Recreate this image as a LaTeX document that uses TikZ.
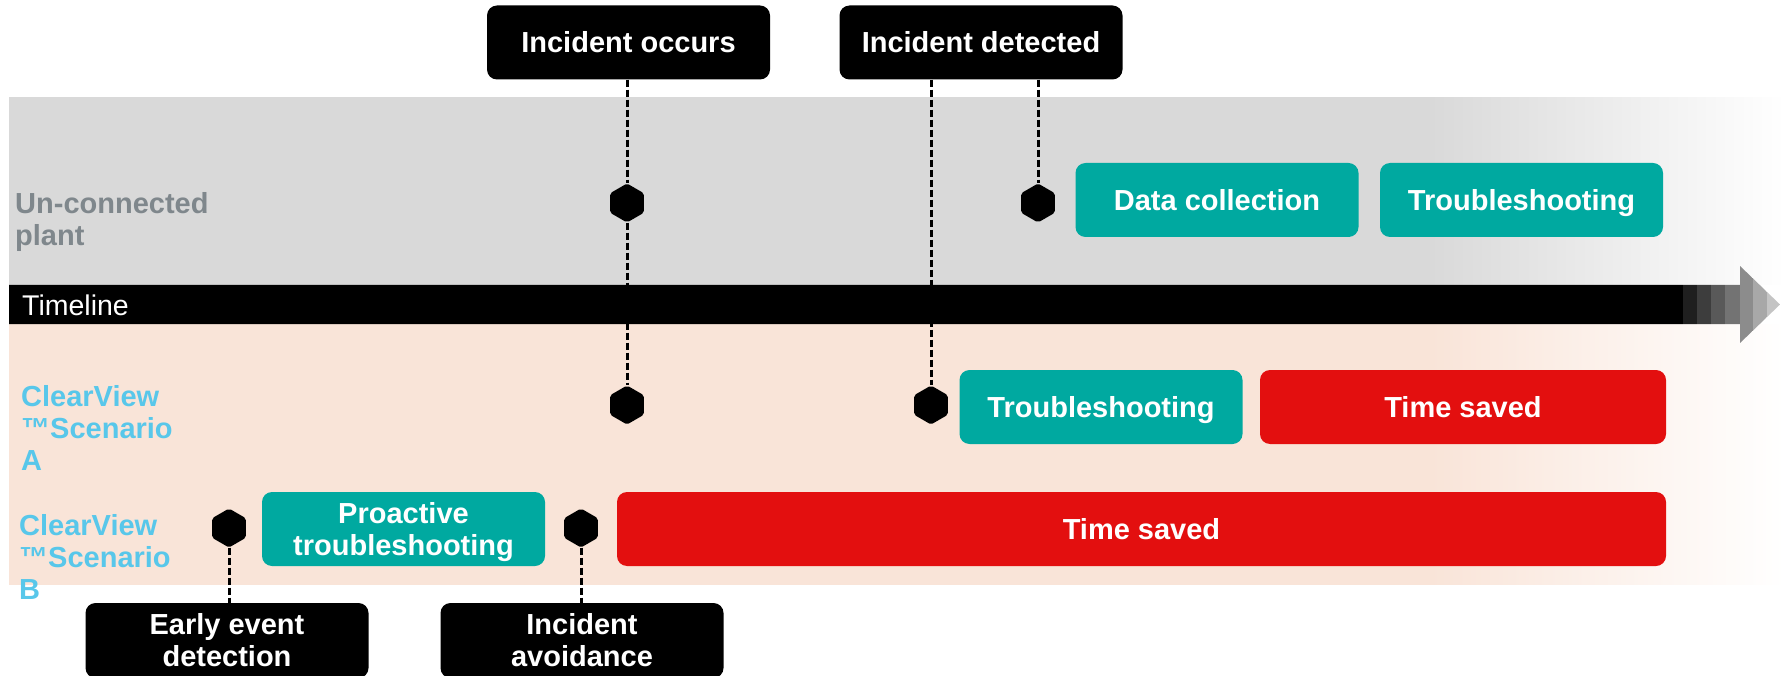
\documentclass[tikz,border=0pt]{standalone}
\usepackage{fontspec}
\setmainfont{Liberation Sans}
\usetikzlibrary{shapes.geometric}

\definecolor{bandgray}{HTML}{D9D9D9}
\definecolor{bandpeach}{HTML}{F9E4D8}
\definecolor{phaseteal}{HTML}{00A9A0}
\definecolor{savedred}{HTML}{E30F0F}
\definecolor{labelgray}{HTML}{7F878C}
\definecolor{labelcyan}{HTML}{58C7EA}

% bands fade out to the right
\pgfdeclarehorizontalshading{grayfade}{100bp}{color(0bp)=(bandgray); color(65bp)=(bandgray); color(75bp)=(white); color(100bp)=(white)}
\pgfdeclarehorizontalshading{peachfade}{100bp}{color(0bp)=(bandpeach); color(65bp)=(bandpeach); color(75bp)=(white); color(100bp)=(white)}

\begin{document}
\begin{tikzpicture}[
		x=1pt, y=-1pt,
		tagbox/.style	={ fill=black, text=white, rounded corners=10pt,
			font=\bfseries\fontsize{29}{32}\selectfont, align=center,
			minimum width=283pt, minimum height=74pt, inner sep=0pt,
		},
		phase/.style	={ tagbox, fill=phaseteal },
		saved/.style	={ tagbox, fill=savedred },
		nodesc/.style	={ text depth=0pt },
		hexmark/.style	={ regular polygon, regular polygon sides=6,
			regular polygon rotate=30, fill=black, minimum size=39pt,
			inner sep=0pt, rounded corners=2pt,
		},
		dashline/.style	={ line width=3pt, dash pattern=on 7pt off 3pt },
		rowlabel/.style	={ font=\bfseries\fontsize{29}{32}\selectfont,
			align=left, anchor=north west, inner sep=0pt,
		},
	]
	
	\useasboundingbox (0,0) rectangle (1785,676);
	
	% draw bands
	\shade [shading=grayfade] (9,98) rectangle (1785,285);
	\shade [shading=peachfade] (9,324) rectangle (1785,584);
	
	% draw timeline arrow
	\begin{scope}
		\clip (9,285) -- (1740,285) -- (1740,266) -- (1780,304.5)
			-- (1740,343) -- (1740,324) -- (9,324) -- cycle;
		\fill [black] (9,266) rectangle (1683,343);
		\foreach \xa/\xb/\k in {1683/1697/88, 1697/1711/76, 1711/1725/65,
				1725/1740/55, 1740/1753/45, 1753/1767/34, 1767/1781/23}
			\fill [black!\k] (\xa,266) rectangle (\xb,343);
	\end{scope}
	\node [anchor=base west, inner sep=0pt, text=white,
		font=\fontsize{28.5}{32}\selectfont] (timelabel) at (22,315) {Timeline};
	
	% row labels
	\node [rowlabel, text=labelgray] (plantlabel) at (15,192) {Un-connected\\plant};
	\node [rowlabel, text=labelcyan] (scenA) at (21,385) {ClearView\\™Scenario\\A};
	\node [rowlabel, text=labelcyan] (scenB) at (19,514) {ClearView\\™Scenario\\B};
	
	% draw event tags
	\node [tagbox] (occurs) at (628.5,42.5) {Incident occurs};
	\node [tagbox] (detected) at (981,42.5) {Incident detected};
	\node [tagbox, minimum height=75pt] (early) at (227,640.5) {Early event\\detection};
	\node [tagbox, minimum height=75pt] (avoid) at (582,640.5) {Incident\\avoidance};
	
	% draw phases
	\node [phase] (collect) at (1217,200) {Data collection};
	\node [phase, nodesc] (troubleU) at (1521.5,200) {Troubleshooting};
	\node [phase, nodesc] (troubleA) at (1101,407) {Troubleshooting};
	\node [saved, minimum width=406pt] (savedA) at (1463,407) {Time saved};
	\node [phase, nodesc] (proactive) at (403.5,529) {Proactive\\troubleshooting};
	\node [saved, minimum width=1049pt] (savedB) at (1141.5,529) {Time saved};
	
	% draw hexagons
	\def\hexlist{ 627/203/u1, 1038/203/u2, 627/405/a1, 931/405/a2, 229/528/b1, 581/528/b2}
	\foreach \x/\y/\n in \hexlist
		\node [hexmark] (hex_\n) at (\x,\y) {};
	
	% draw dashed guides
	\draw [dashline] (hex_u1 |- occurs.south) -- (hex_u1.north);
	\draw [dashline] (hex_u1.south) -- (hex_a1.north);
	\draw [dashline] (hex_u2 |- detected.south) -- (hex_u2.north);
	\draw [dashline] (hex_a2 |- detected.south) -- (hex_a2.north);
	\draw [dashline] (hex_b1.south) -- (hex_b1 |- early.north);
	\draw [dashline] (hex_b2.south) -- (hex_b2 |- avoid.north);
	
\end{tikzpicture}
\end{document}
